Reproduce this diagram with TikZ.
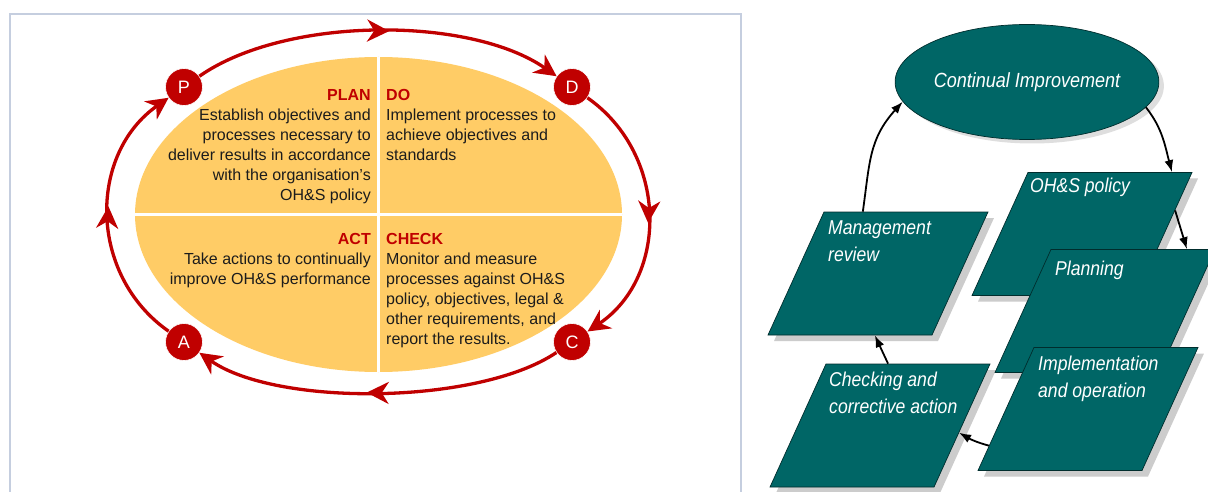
\documentclass[tikz,border=0pt]{standalone}
\usepackage{fontspec}
\setmainfont{Liberation Sans}
\newfontfamily\narrowsans[FakeStretch=0.88]{Liberation Sans}
\usetikzlibrary{arrows.meta,shadows,shapes.geometric,decorations.markings}

\definecolor{pdcared}{RGB}{192,0,0}
\definecolor{pdcagold}{RGB}{255,204,102}
\definecolor{panelline}{RGB}{197,206,223}
\definecolor{sysfill}{RGB}{0,102,102}
\definecolor{sysedge}{RGB}{0,45,45}
\definecolor{bodytext}{RGB}{28,28,28}
\definecolor{shadowgray}{RGB}{204,204,204}

\tikzset{
  cyclehead/.tip={Stealth[length=22pt,width=22pt,inset=7pt]},
  cyclearc/.style={color=pdcared, line width=3.3pt, -cyclehead,
    postaction={decorate},
    decoration={markings, mark=at position 0.53 with {\arrow{cyclehead}}}},
  stagedot/.style={circle, fill=pdcared, draw=white, line width=0.6pt,
    minimum size=37pt, inner sep=0pt, text=white,
    font=\fontsize{18}{18}\selectfont},
  quadtext/.style={inner sep=0pt, text=bodytext,
    font=\fontsize{16}{20}\selectfont},
  sysbox/.style={rectangle, minimum width=164pt, minimum height=123pt,
    inner sep=0pt, xslant=0.455, transform shape,
    fill=sysfill, draw=sysedge, line width=0.7pt,
    drop shadow={shadow xshift=6pt, shadow yshift=-6pt, fill=shadowgray, opacity=1}},
  syslabel/.style={inner sep=0pt, text=white, align=left,
    font=\narrowsans\itshape\fontsize{20}{27}\selectfont},
  sysflow/.style={draw=black, line width=1.8pt, -{Latex[length=12pt,width=9pt]}}
}

\begin{document}
\begin{tikzpicture}[x=1pt,y=-1pt]
  \fill[white] (0,0) rectangle (1208,492);
  \useasboundingbox (0,0) rectangle (1208,492);

  % ---------- PDCA panel ----------
  \draw[panelline, line width=1.5pt] (10,520) -- (10,14) -- (741,14) -- (741,520);

  \node[ellipse, fill=pdcagold, minimum width=487pt, minimum height=315pt,
        inner sep=0pt] (core) at (378.5,214.5) {};
  \draw[white, line width=3pt] (core.north) -- (core.south);
  \draw[white, line width=3pt] (core.west) -- (core.east);

  \node[quadtext, align=right, anchor=north east] (plan) at (371,89.5)
    {\textcolor{pdcared}{\bfseries PLAN}\\Establish objectives and\\processes necessary to\\deliver results in accordance\\with the organisation’s\\OH\&S policy};
  \node[quadtext, align=left, anchor=north west] (do) at (386,89.5)
    {\textcolor{pdcared}{\bfseries DO}\\Implement processes to\\achieve objectives and\\standards};
  \node[quadtext, align=right, anchor=north east] (act) at (371,233.5)
    {\textcolor{pdcared}{\bfseries ACT}\\Take actions to continually\\improve OH\&S performance};
  \node[quadtext, align=left, anchor=north west] (check) at (386,233.5)
    {\textcolor{pdcared}{\bfseries CHECK}\\Monitor and measure\\processes against OH\&S\\policy, objectives, legal \&\\other requirements, and\\report the results.};

  \node[stagedot] (P) at (184,87) {P};
  \node[stagedot] (D) at (572,87) {D};
  \node[stagedot] (C) at (572,342) {C};
  \node[stagedot] (A) at (184,342) {A};

  \draw[cyclearc] (P) to[out=35,in=145,looseness=0.755] (D);
  \draw[cyclearc] (D) to[out=-35,in=34,looseness=1.08] (C);
  \draw[cyclearc] (C) to[out=214,in=-35,looseness=0.676] (A);
  \draw[cyclearc] (A) to[out=145,in=215,looseness=1.08] (P);

  % ---------- OH&S management system panel ----------
  \node[ellipse, minimum width=230pt, minimum height=115pt, inner sep=0pt,
        fill=sysfill, draw=sysedge, line width=0.7pt,
        drop shadow={shadow xshift=5pt, shadow yshift=-4pt, fill=black!13, opacity=1},
        text=white, font=\narrowsans\itshape\fontsize{20.5}{24}\selectfont]
        (ci) at (1027,82) {Continual Improvement};

  \node[sysbox] (mr) at (878,273.5) {};
  \node[sysbox] (ca) at (880,425.5) {};
  \node[sysbox] (pol) at (1082,234) {};
  \node[sysbox] (pl) at (1105,311) {};
  \node[sysbox] (io) at (1088,409) {};

  \node[syslabel, anchor=base west] (polt) at (1030,193) {OH\&S policy};
  \node[syslabel, anchor=north west] (mrt) at (828,220.7) {Management\\review};
  \node[syslabel, anchor=base west] (plt) at (1055,275) {Planning};
  \node[syslabel, anchor=north west] (iot) at (1038,355.4) {Implementation\\and operation};
  \node[syslabel, anchor=north west] (cat) at (829,372) {Checking and\\corrective action};

  \draw[sysflow] (mr.125) to[out=82,in=228,looseness=1.1] (ci.189);
  \draw[sysflow] (ci.-12) to[out=-52,in=105] (pol.45);
  \draw[sysflow] (pol.16) -- (pl.49);
  \draw[sysflow] (io.204) to[out=165,in=-30] (ca.-5);
  \draw[sysflow] (ca.108) -- (mr.-68);
\end{tikzpicture}
\end{document}
